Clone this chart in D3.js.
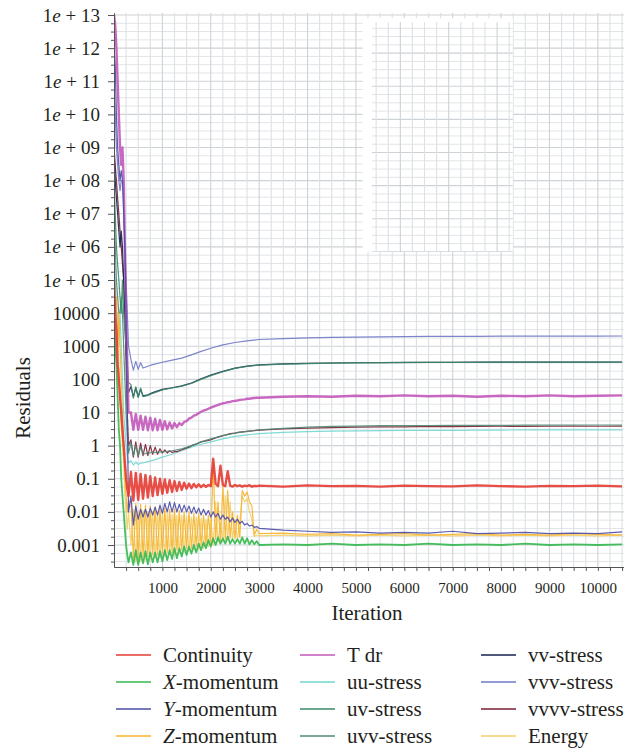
<!DOCTYPE html>
<html>
<head>
<meta charset="utf-8">
<script src="https://cdn.jsdelivr.net/npm/d3@7"></script>
<style>
  body { margin: 0; font-family: "Liberation Serif", "Times New Roman", serif; }
  #chart text, #chart tspan { font-family: "Liberation Serif", "Times New Roman", serif !important; }
</style>
</head>
<body>
<div id="chart"></div>
<script>
// Iteration grids (fine one for the noisy residuals, coarse one for the smooth stresses)
const itersFine = [0, 25, 50, 75, 100, 125, 150, 175, 200, 225, 250, 275, 300,
  350, 400, 450, 500, 550, 600, 650, 700, 750, 800,
  850, 900, 950, 1000, 1050, 1100, 1150, 1200, 1250, 1300,
  1350, 1400, 1450, 1500, 1550, 1600, 1650, 1700, 1750, 1800,
  1850, 1900, 1950, 2000, 2050, 2100, 2150, 2200, 2250, 2300,
  2350, 2400, 2450, 2500, 2550, 2600, 2650, 2700, 2750, 2800,
  2850, 2900, 2950, 3000,
  3500, 4000, 4500, 5000, 5500, 6000, 6500, 7000, 7500, 8000, 8500, 9000, 9500, 10000, 10500];

const itersCoarse = [0, 25, 50, 75, 100, 125, 150, 175, 200, 225, 250, 275, 300,
  350, 400, 450, 500, 550, 600,
  700, 800, 1000, 1200, 1400, 1600, 1800, 2000, 2250, 2500, 2750, 3000,
  3500, 4000, 4500, 5000, 5500, 6000, 6500, 7000, 7500, 8000, 8500, 9000, 9500, 10000, 10500];

// Residual values
const continuity = [1e5, 1e4, 3e3, 300, 100, 30, 10, 3, 1, 0.3, 0.1, 0.05, 0.03,
  .16, .022, .15, .023, .14, .025, .13, .027, .12, .03,
  .11, .032, .10, .035, .095, .038, .09, .04, .085, .043,
  .08, .046, .076, .05, .072, .052, .07, .055, .068, .056,
  .066, .057, .065, .06, .4, .07, .06, .25, .065, .06,
  .17, .062, .058, .065, .06, .063, .058, .062, .06, .064,
  .058, .061, .06, .062,
  .058, .063, .06, .061, .058, .062, .06, .059, .063, .06, .058, .061, .06, .062, .059];

const xMomentum = [1e4, 1e3, 300, 30, 3, 1, 0.1, 0.03, 0.01, 3e-3, 1e-3, 5e-4, 3e-4,
  6e-4, 2.5e-4, 7e-4, 2.5e-4, 6e-4, 2.8e-4, 6.5e-4, 2.6e-4, 6e-4, 3e-4,
  6e-4, 3e-4, 6.5e-4, 3.2e-4, 7e-4, 3.5e-4, 7e-4, 3.8e-4, 8e-4, 4e-4,
  8e-4, 4.5e-4, 9e-4, 5e-4, 9e-4, 5.5e-4, 1e-3, 6e-4, 1.1e-3, 7e-4,
  1.2e-3, 8e-4, 1.4e-3, 9e-4, 1.6e-3, 1e-3, 1.7e-3, 1.1e-3, 1.6e-3, 1.1e-3,
  1.8e-3, 1.1e-3, 1.5e-3, 1.1e-3, 1.5e-3, 1.1e-3, 1.7e-3, 1.1e-3, 1.6e-3, 1.05e-3,
  1.4e-3, 1.05e-3, 1.3e-3, 1e-3,
  1.05e-3, 1e-3, 1.1e-3, 1e-3, 1.05e-3, 1e-3, 1.1e-3, 1e-3, 1.05e-3, 1e-3, 1.1e-3, 1e-3, 1.05e-3, 1e-3, 1.05e-3];

const yMomentum = [1e12, 3e11, 1e10, 1e9, 3e8, 1e8, 2e8, 1e8, 1e7, 1e6, 1e4, 10, 0.01,
  .03, .004, .015, .006, .012, .007, .012, .007, .013, .008,
  .014, .008, .016, .009, .018, .01, .02, .01, .019, .01,
  .017, .01, .016, .01, .015, .009, .014, .009, .013, .008,
  .012, .008, .011, .007, .01, .007, .009, .006, .008, .006,
  .007, .005, .0065, .0048, .006, .0045, .0052, .004, .0045, .0037,
  .004, .0034, .0036, .0032,
  .0028, .0026, .0024, .0025, .0023, .0024, .0023, .0026, .0022, .0023, .0024, .0022, .0023, .0022, .0025];

const zMomentum = [1e5, 1e4, 3e4, 1e3, 1e4, 1e3, 100, 10, 1, 0.1, 0.03, 0.01, 0.02,
  .02, 4e-4, .018, 4e-4, .017, 4.5e-4, .016, 4.5e-4, .015, 5e-4,
  .014, 5e-4, .014, 5.5e-4, .013, 6e-4, .012, 6e-4, .012, 7e-4,
  .011, 7e-4, .01, 8e-4, .01, 8e-4, .009, 9e-4, .009, 1e-3,
  .008, 1e-3, .008, 1.2e-3, .3, 1.5e-3, .02, 1.4e-3, .06, 1.5e-3,
  .045, 1.6e-3, .01, 1.6e-3, .008, 1.7e-3, .045, .03, .04, .02,
  .015, 2e-3, 3e-3, 2.2e-3,
  2.3e-3, 2.1e-3, 2.2e-3, 2e-3, 2.1e-3, 2.2e-3, 2e-3, 2.1e-3, 2.2e-3, 2e-3, 2.1e-3, 2e-3, 2.2e-3, 2.1e-3, 2e-3];

const energy = [1e4, 3e3, 1e3, 3e3, 300, 30, 3, 1, 0.3, 0.03, 0.01, 3e-3, 0.01,
  1e-3, .012, 3e-4, .011, 3.2e-4, .011, 3.5e-4, .01, 3.5e-4, .01,
  4e-4, .0095, 4e-4, .009, 4.5e-4, .009, 5e-4, .0085, 5e-4, .008,
  5.5e-4, .008, 6e-4, .0075, 6.5e-4, .007, 7e-4, .007, 7.5e-4, .0065,
  8e-4, .006, 9e-4, .006, 1e-3, .02, 1.2e-3, .005, 1.3e-3, .03,
  1.4e-3, .02, 1.5e-3, .006, 1.5e-3, .005, .03, .02, .025, .01,
  .006, 1.8e-3, 2e-3, 1.9e-3,
  2e-3, 1.9e-3, 2e-3, 1.9e-3, 2e-3, 1.9e-3, 2e-3, 1.9e-3, 2e-3, 1.9e-3, 2e-3, 1.9e-3, 2e-3, 1.9e-3, 2e-3];

const tDr = [1e13, 5e12, 1e12, 1e11, 1e10, 1e9, 3e8, 1e9, 1e8, 1e6, 1e4, 300, 10,
  10, 3, 9, 3, 8, 3, 7.5, 2.9, 7, 2.9,
  6.5, 2.9, 6, 3, 5.5, 3.1, 5, 3.3, 4.8, 3.6,
  4.8, 4.2, 5.2, 5.5, 6.5, 7, 8, 8.5, 9.5, 10.5,
  11.5, 12, 13, 14, 15, 16, 17, 18, 19, 19.5,
  20.5, 21, 22, 22.5, 23, 24, 24.5, 25, 26, 26,
  27, 27.5, 28, 28,
  30, 31, 30, 32, 31, 33, 31, 32, 30, 32, 31, 33, 31, 32, 33];

const vvvvStress = [1e9, 3e8, 1e8, 3e7, 1e7, 3e6, 1e6, 3e5, 1e5, 1e4, 300, 10, 1,
  1.5, .45, 1.3, .45, 1.2, .5, 1.1, .5, 1, .55,
  .9, .55, .8, .6, .75, .6, .7, .62, .66, .66,
  .7, .75, .8, .85, .9, 1, 1.05, 1.1, 1.2, 1.3,
  1.35, 1.4, 1.45, 1.5, 1.6, 1.7, 1.8, 1.9, 2, 2.1,
  2.2, 2.3, 2.35, 2.4, 2.5, 2.55, 2.6, 2.65, 2.7, 2.75,
  2.8, 2.85, 2.9, 2.95,
  3.2, 3.4, 3.5, 3.6, 3.7, 3.7, 3.8, 3.75, 3.8, 3.85, 3.8, 3.85, 3.9, 3.85, 3.9];

const vvvStress = [1e11, 1e10, 1e9, 3e8, 1e8, 5e7, 1e8, 1e8, 3e7, 1e6, 1e5, 1e4, 1e3,
  400, 190, 350, 200, 320, 220,
  250, 280, 330, 380, 440, 550, 700, 870, 1100, 1300, 1450, 1600,
  1700, 1780, 1850, 1900, 1930, 1960, 1980, 2000, 2000, 2010, 2020, 2020, 2030, 2030, 2040];

const uvStress = [1e8, 1e7, 1e6, 3e5, 1e5, 3e4, 1e4, 1e5, 1e4, 3e3, 1e3, 300, 80,
  70, 27, 60, 28, 55, 30,
  33, 38, 48, 55, 62, 75, 100, 130, 170, 215, 245, 270,
  290, 300, 310, 315, 320, 322, 325, 327, 328, 330, 330, 331, 332, 332, 333];

const vvStress = [1e9, 1e8, 3e7, 1e7, 3e6, 1e6, 3e6, 1e6, 1e5, 1e4, 1e3, 100, 40,
  60, 30, 55, 30, 50, 32,
  34, 40, 50, 56, 64, 78, 105, 135, 175, 220, 250, 275,
  295, 305, 312, 318, 322, 325, 327, 329, 330, 331, 332, 333, 334, 334, 335];

const uvvStress = [1e7, 1e6, 1e5, 3e4, 1e4, 1e4, 3e4, 1e4, 1e3, 100, 10, 2, 0.6,
  1.2, 0.5, 1, 0.5, 0.9, 0.55,
  0.6, 0.62, 0.65, 0.7, 0.8, 1, 1.3, 1.6, 2, 2.4, 2.7, 3,
  3.3, 3.6, 3.8, 3.9, 4, 4, 4.05, 4.1, 4.1, 4.1, 4.15, 4.15, 4.2, 4.2, 4.2];

const uuStress = [1e6, 1e5, 1e4, 1e4, 1e3, 1e4, 1e3, 100, 10, 3, 1, 0.5, 0.3,
  0.35, 0.26, 0.32, 0.27, 0.3, 0.3,
  0.33, 0.36, 0.45, 0.55, 0.7, 0.9, 1.1, 1.3, 1.6, 1.9, 2.1, 2.3,
  2.5, 2.65, 2.75, 2.8, 2.85, 2.9, 2.9, 2.9, 2.95, 2.95, 3, 3, 3, 3, 3];

// Tick values and labels
const yTickValues = [1e13, 1e12, 1e11, 1e10, 1e9, 1e8, 1e7, 1e6, 1e5, 1e4, 1e3, 100, 10, 1, 0.1, 0.01, 0.001];
const yTickLabels = ["1e + 13", "1e + 12", "1e + 11", "1e + 10", "1e + 09", "1e + 08", "1e + 07",
  "1e + 06", "1e + 05", "10000", "1000", "100", "10", "1", "0.1", "0.01", "0.001"];
const xTickLabels = [1000, 2000, 3000, 4000, 5000, 6000, 7000, 8000, 9000, 10000];

// Legend columns
const legendColumns = [
  ["Continuity", "X-momentum", "Y-momentum", "Z-momentum"],
  ["T dr", "uu-stress", "uv-stress", "uvv-stress"],
  ["vv-stress", "vvv-stress", "vvvv-stress", "Energy"]
];

// Series table (drawing order: first drawn at the back)
const series = [
  { name: "uu-stress", iters: itersCoarse, values: uuStress },
  { name: "vvvv-stress", iters: itersFine, values: vvvvStress },
  { name: "uvv-stress", iters: itersCoarse, values: uvvStress },
  { name: "vv-stress", iters: itersCoarse, values: vvStress },
  { name: "uv-stress", iters: itersCoarse, values: uvStress },
  { name: "vvv-stress", iters: itersCoarse, values: vvvStress },
  { name: "T dr", iters: itersFine, values: tDr },
  { name: "Energy", iters: itersFine, values: energy },
  { name: "Z-momentum", iters: itersFine, values: zMomentum },
  { name: "Y-momentum", iters: itersFine, values: yMomentum },
  { name: "X-momentum", iters: itersFine, values: xMomentum },
  { name: "Continuity", iters: itersFine, values: continuity }
];

const colors = {
  "Continuity": "#e53a32", "X-momentum": "#33b84e", "Y-momentum": "#4b4ba6", "Z-momentum": "#f7b42c",
  "T dr": "#c258b9", "uu-stress": "#72d6cf", "uv-stress": "#3a8a66", "uvv-stress": "#4f8a74",
  "vv-stress": "#14224e", "vvv-stress": "#7078c4", "vvvv-stress": "#7b1f33", "Energy": "#f3cf6a"
};
const widths = { "Continuity": 2.4, "T dr": 2.4, "X-momentum": 1.8 };

// Set up chart dimensions and margins
const margin = { top: 13, left: 114 };
const width = 510;
const height = 554;

const svgRoot = d3.select("#chart")
  .append("svg")
  .attr("width", 624)
  .attr("height", 750)
  .attr("font-family", "Liberation Serif");

const svg = svgRoot.append("g")
  .attr("transform", `translate(${margin.left},${margin.top})`);

const x = d3.scaleLinear().domain([0, 10540]).range([0, width]);
const y = d3.scaleLog().domain([2.17e-4, 1.15e13]).range([height, 0]);

svg.append("clipPath").attr("id", "plot-clip")
  .append("rect").attr("width", width).attr("height", height);

// Grid
const minorTicks = [];
for (let k = -4; k <= 13; k++) {
  [0.25, 0.5, 0.75].forEach(f => {
    const v = Math.pow(10, k + f);
    if (v > y.domain()[0] && v < y.domain()[1]) minorTicks.push(v);
  });
}

function drawGrid(g) {
  g.selectAll(".hminor").data(minorTicks).enter().append("line")
    .attr("x1", 0).attr("x2", width)
    .attr("y1", d => y(d)).attr("y2", d => y(d))
    .attr("stroke", "#e1e4e7").attr("stroke-width", 1);
  g.selectAll(".hmajor").data(yTickValues).enter().append("line")
    .attr("x1", 0).attr("x2", width)
    .attr("y1", d => y(d)).attr("y2", d => y(d))
    .attr("stroke", "#cdd2d6").attr("stroke-width", 1.2);
  g.selectAll(".vline").data(d3.range(250, 10541, 250)).enter().append("line")
    .attr("y1", 0).attr("y2", height)
    .attr("x1", d => x(d)).attr("x2", d => x(d))
    .attr("stroke", d => d % 1000 === 0 ? "#cdd2d6" : "#dde1e4").attr("stroke-width", 1.1);
}
drawGrid(svg.append("g").attr("class", "grid"));

// White inset panel left over in the upper right
svg.append("clipPath").attr("id", "inset-clip")
  .append("rect")
  .attr("x", x(5330)).attr("y", y(6e12))
  .attr("width", x(8240) - x(5330)).attr("height", y(7e5) - y(6e12));
svg.append("rect")
  .attr("x", x(5140)).attr("y", y(8e12))
  .attr("width", x(8240) - x(5140)).attr("height", y(7e5) - y(8e12))
  .attr("fill", "#fff");
drawGrid(svg.append("g").attr("clip-path", "url(#inset-clip)")
  .append("g").attr("transform", "translate(-4,5)"));

// Lines
const line = d3.line()
  .x(d => x(d[0]))
  .y(d => y(d[1]));

svg.append("g").attr("clip-path", "url(#plot-clip)")
  .selectAll("path")
  .data(series)
  .enter().append("path")
  .attr("d", s => line(s.iters.map((it, i) => [it, s.values[i]])))
  .attr("fill", "none")
  .attr("stroke", s => colors[s.name])
  .attr("stroke-width", s => widths[s.name] || 1.2)
  .attr("stroke-linejoin", "round")
  .attr("opacity", 0.9);

// Axes
const yAxis = svg.append("g")
  .call(d3.axisLeft(y).tickValues(yTickValues).tickFormat((d, i) => yTickLabels[i])
    .tickSize(6).tickSizeOuter(0).tickPadding(8))
  .attr("font-family", "Liberation Serif")
  .attr("font-size", 19);
yAxis.selectAll("text")
  .attr("fill", "#231f20")
  .each(function(d, i) {
    const label = yTickLabels[i];
    if (label.indexOf("e") > 0) {
      const t = d3.select(this).text("");
      t.append("tspan").text("1");
      t.append("tspan").attr("font-style", "italic").text("e");
      t.append("tspan").text("\u00a0+\u00a0" + label.slice(5));
    }
  });

svg.append("g")
  .call(d3.axisLeft(y).tickValues(minorTicks).tickFormat("").tickSize(3).tickSizeOuter(0));

const xAxis = svg.append("g")
  .attr("transform", `translate(0,${height})`)
  .call(d3.axisBottom(x).tickValues(d3.range(250, 10541, 250))
    .tickFormat(d => xTickLabels.includes(d) ? d : "")
    .tickSize(4).tickSizeOuter(0).tickPadding(11))
  .attr("font-family", "Liberation Serif")
  .attr("font-size", 15);
xAxis.selectAll("text").attr("fill", "#231f20");

svg.selectAll(".domain").attr("stroke", "#555");
svg.selectAll(".tick line").attr("stroke", "#555");

// Axis titles
svgRoot.append("text")
  .attr("x", margin.left + width / 2 - 2)
  .attr("y", 620)
  .attr("text-anchor", "middle")
  .attr("font-size", 21)
  .attr("fill", "#231f20")
  .text("Iteration");

svgRoot.append("text")
  .attr("transform", "translate(30,398) rotate(-90)")
  .attr("text-anchor", "middle")
  .attr("font-size", 21)
  .attr("fill", "#231f20")
  .text("Residuals");

// Legend
const legendX = [116, 300, 481];
const legend = svgRoot.append("g");
legendColumns.forEach((col, c) => {
  col.forEach((name, r) => {
    const g = legend.append("g")
      .attr("transform", `translate(${legendX[c]},${655 + r * 27})`);
    g.append("line")
      .attr("x1", 0).attr("x2", 35)
      .attr("stroke", colors[name]).attr("stroke-width", 1.6);
    const t = g.append("text")
      .attr("x", 47).attr("y", 7)
      .attr("font-size", 21)
      .attr("fill", "#231f20");
    const m = name.match(/^([XYZ])(-.*)$/);
    if (m) {
      t.append("tspan").attr("font-style", "italic").text(m[1]);
      t.append("tspan").text(m[2]);
    } else {
      t.text(name);
    }
  });
});

// Put the serif face on every text element directly
svgRoot.selectAll("text").style("font-family", "\"Liberation Serif\"");
</script>
</body>
</html>
